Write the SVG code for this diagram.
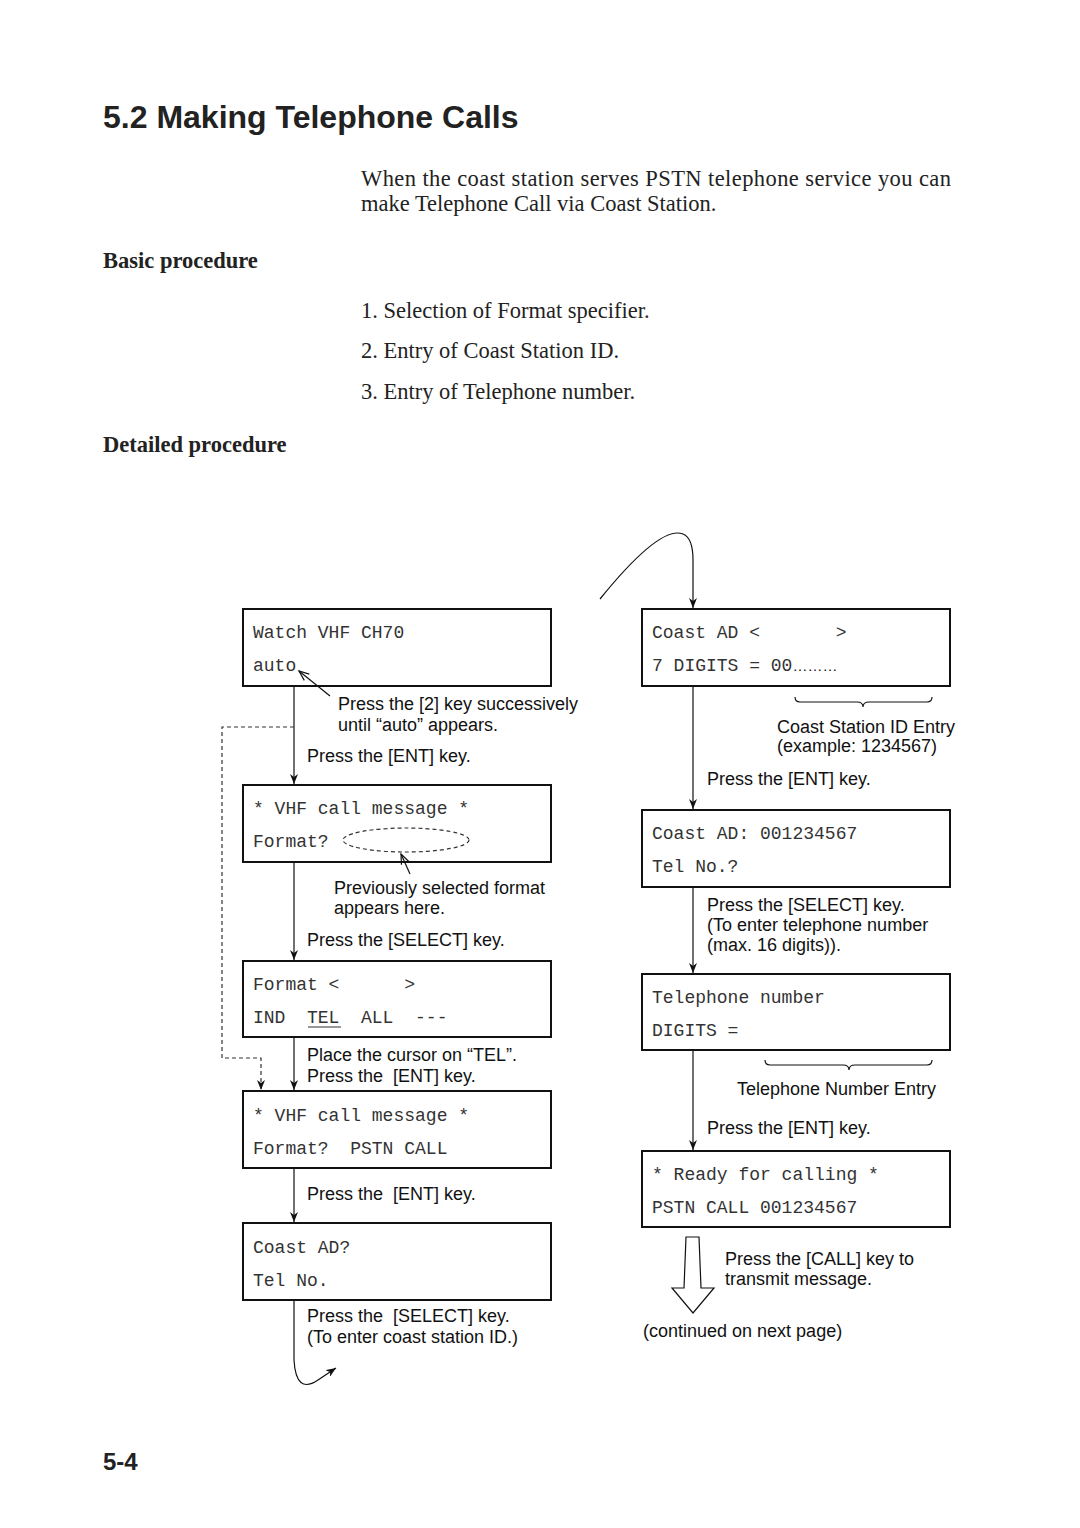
<svg xmlns="http://www.w3.org/2000/svg" width="1080" height="1528" viewBox="0 0 1080 1528">
<defs>
<style>
.title{font-family:"Liberation Sans",Arial,sans-serif;font-weight:bold;font-size:32px;fill:#222}
.serif{font-family:"Liberation Serif","Times New Roman",serif;font-size:22.5px;fill:#222}
.serifb{font-family:"Liberation Serif","Times New Roman",serif;font-size:22.5px;font-weight:bold;fill:#222}
.mono{font-family:"Liberation Mono","Courier New",monospace;font-size:18px;fill:#333}
.lbl{font-family:"Liberation Sans",Arial,sans-serif;font-size:18px;fill:#111}
.box{fill:#fff;stroke:#111;stroke-width:2}
.ln{fill:none;stroke:#111;stroke-width:1.2}
.dash{fill:none;stroke:#333;stroke-width:1.2;stroke-dasharray:4,3}
</style>
<marker id="ahd" viewBox="0 0 10 8" markerWidth="10" markerHeight="8" refX="10" refY="4" orient="auto" markerUnits="userSpaceOnUse">
<path d="M0,0 L10,4 L0,8 L3,4 Z" fill="#111"/>
</marker>
<marker id="aho" viewBox="0 0 12 10" markerWidth="12" markerHeight="10" refX="11" refY="5" orient="auto" markerUnits="userSpaceOnUse">
<path d="M1,1 L11,5 L1,9" fill="none" stroke="#111" stroke-width="1.2"/>
</marker>
</defs>
<rect width="1080" height="1528" fill="#fff"/>

<text class="title" x="103" y="128">5.2 Making Telephone Calls</text>
<text class="serif" x="361" y="186" textLength="590" lengthAdjust="spacing">When the coast station serves PSTN telephone service you can</text>
<text class="serif" x="361" y="211">make Telephone Call via Coast Station.</text>
<text class="serifb" x="103" y="268">Basic procedure</text>
<text class="serif" x="361" y="318">1. Selection of Format specifier.</text>
<text class="serif" x="361" y="358">2. Entry of Coast Station ID.</text>
<text class="serif" x="361" y="399">3. Entry of Telephone number.</text>
<text class="serifb" x="103" y="452">Detailed procedure</text>

<g id="n1">
<rect class="box" x="243" y="609" width="308" height="77"/>
<text class="mono" x="253" y="638">Watch VHF CH70</text>
<text class="mono" x="253" y="671">auto</text>
</g>
<text class="lbl" x="338" y="710">Press the [2] key successively</text>
<text class="lbl" x="338" y="731">until “auto” appears.</text>
<text class="lbl" x="307" y="762">Press the [ENT] key.</text>

<g id="n2">
<rect class="box" x="243" y="785" width="308" height="77"/>
<text class="mono" x="253" y="814">* VHF call message *</text>
<text class="mono" x="253" y="847">Format?</text>
<ellipse class="dash" cx="406" cy="840" rx="63" ry="12"/>
</g>
<text class="lbl" x="334" y="894">Previously selected format</text>
<text class="lbl" x="334" y="914">appears here.</text>
<text class="lbl" x="307" y="946">Press the [SELECT] key.</text>

<g id="n3">
<rect class="box" x="243" y="961" width="308" height="76"/>
<text class="mono" x="253" y="990" xml:space="preserve">Format &lt;      &gt;</text>
<text class="mono" x="253" y="1023" xml:space="preserve">IND  TEL  ALL  ---</text>
<line x1="308" y1="1027" x2="341" y2="1027" stroke="#333" stroke-width="1.2"/>
</g>
<text class="lbl" x="307" y="1061">Place the cursor on “TEL”.</text>
<text class="lbl" x="307" y="1082" xml:space="preserve">Press the  [ENT] key.</text>

<g id="n4">
<rect class="box" x="243" y="1091" width="308" height="77"/>
<text class="mono" x="253" y="1121">* VHF call message *</text>
<text class="mono" x="253" y="1154" xml:space="preserve">Format?  PSTN CALL</text>
</g>
<text class="lbl" x="307" y="1200" xml:space="preserve">Press the  [ENT] key.</text>

<g id="n5">
<rect class="box" x="243" y="1223" width="308" height="77"/>
<text class="mono" x="253" y="1253">Coast AD?</text>
<text class="mono" x="253" y="1286">Tel No.</text>
</g>
<text class="lbl" x="307" y="1322" xml:space="preserve">Press the  [SELECT] key.</text>
<text class="lbl" x="307" y="1343">(To enter coast station ID.)</text>

<g id="r1">
<rect class="box" x="642" y="609" width="308" height="77"/>
<text class="mono" x="652" y="638" xml:space="preserve">Coast AD &lt;       &gt;</text>
<text class="mono" x="652" y="671">7 DIGITS = 00<tspan class="lbl" style="font-size:15px">………</tspan></text>
</g>
<text class="lbl" x="777" y="733">Coast Station ID Entry</text>
<text class="lbl" x="777" y="752">(example: 1234567)</text>
<text class="lbl" x="707" y="785">Press the [ENT] key.</text>

<g id="r2">
<rect class="box" x="642" y="810" width="308" height="77"/>
<text class="mono" x="652" y="839">Coast AD: 001234567</text>
<text class="mono" x="652" y="872">Tel No.?</text>
</g>
<text class="lbl" x="707" y="911">Press the [SELECT] key.</text>
<text class="lbl" x="707" y="931">(To enter telephone number</text>
<text class="lbl" x="707" y="951">(max. 16 digits)).</text>

<g id="r3">
<rect class="box" x="642" y="974" width="308" height="76"/>
<text class="mono" x="652" y="1003">Telephone number</text>
<text class="mono" x="652" y="1036">DIGITS =</text>
</g>
<text class="lbl" x="737" y="1095">Telephone Number Entry</text>
<text class="lbl" x="707" y="1134">Press the [ENT] key.</text>

<g id="r4">
<rect class="box" x="642" y="1151" width="308" height="76"/>
<text class="mono" x="652" y="1180">* Ready for calling *</text>
<text class="mono" x="652" y="1213">PSTN CALL 001234567</text>
</g>
<text class="lbl" x="725" y="1265">Press the [CALL] key to</text>
<text class="lbl" x="725" y="1285">transmit message.</text>
<text class="lbl" x="643" y="1337">(continued on next page)</text>

<g id="connectors">
<line class="ln" x1="294" y1="687" x2="294" y2="784" marker-end="url(#ahd)"/>
<line class="ln" x1="294" y1="863" x2="294" y2="960" marker-end="url(#ahd)"/>
<line class="ln" x1="294" y1="1038" x2="294" y2="1090" marker-end="url(#ahd)"/>
<line class="ln" x1="294" y1="1169" x2="294" y2="1222" marker-end="url(#ahd)"/>
<path class="dash" d="M294,727 H222 V1058 H261 V1090" marker-end="url(#ahd)"/>
<path class="ln" d="M294,1301 V1360 Q296,1395 318,1380 L336,1368" marker-end="url(#ahd)"/>
<path class="ln" d="M600,599 Q660,525 683,534 Q693,538 693,560 V608" marker-end="url(#ahd)"/>
<line class="ln" x1="693" y1="687" x2="693" y2="809" marker-end="url(#ahd)"/>
<line class="ln" x1="693" y1="888" x2="693" y2="973" marker-end="url(#ahd)"/>
<line class="ln" x1="693" y1="1051" x2="693" y2="1150" marker-end="url(#ahd)"/>
<line class="ln" x1="330" y1="696" x2="299" y2="671" marker-end="url(#aho)"/>
<line class="ln" x1="410" y1="874" x2="401" y2="854" marker-end="url(#aho)"/>
<path class="ln" d="M795,697 Q795,702 800,702 H857 Q863,702 863,707 Q863,702 869,702 H927 Q932,702 932,697"/>
<path class="ln" d="M765,1060 Q765,1065 770,1065 H843 Q849,1065 849,1070 Q849,1065 855,1065 H927 Q932,1065 932,1060"/>
<path d="M686,1237 H699 L701,1288 H714 L693,1313 L672,1288 H684 Z" fill="#fff" stroke="#111" stroke-width="1.2"/>
</g>

<text class="title" style="font-size:24px" x="103" y="1470">5-4</text>
</svg>
